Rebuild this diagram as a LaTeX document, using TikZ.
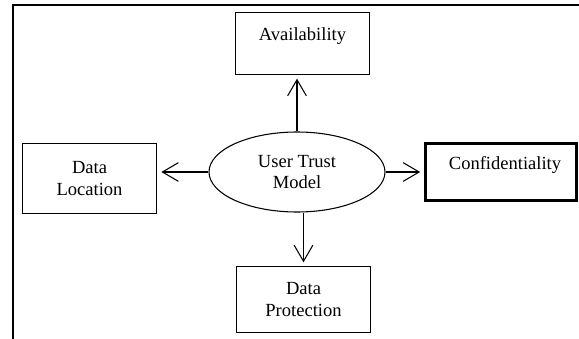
\documentclass[tikz,border=0pt]{standalone}
\usepackage{fontspec}
\setmainfont{Liberation Serif}
\usetikzlibrary{arrows.meta,shapes.geometric}

\tikzset{
  box/.style={draw, line width=0.8pt, minimum width=101pt, inner sep=0pt},
  label text/.style={inner sep=0.75pt, align=center, font=\fontsize{13.9}{16}\selectfont},
  trust/.style={draw, ellipse, line width=0.8pt, minimum width=132pt, minimum height=60pt, inner sep=0pt, align=center, font=\fontsize{13.9}{15.5}\selectfont},
  arr/.style={line width=0.8pt, -{Straight Barb[length=12pt,width=14pt,line width=0.8pt]}, shorten >=3pt}
}

\begin{document}
\begin{tikzpicture}[x=0.75pt,y=0.75pt,yscale=-1,xscale=1]
  \useasboundingbox (0,0) rectangle (579,339);

  %Frame
  \draw [line width=1.1pt] (13,339) |- (579,5);

  %Shape: Ellipse
  \node [trust] (utm) at (297,172) {User Trust\\Model};

  %Shape: Rectangles
  \node [box, minimum height=46pt] (avail) at (302.5,43.5) {};
  \node [box, minimum height=52pt, label text] (loc) at (89.5,178.5) {Data\\Location};
  \node [box, minimum height=49pt, label text] (prot) at (303.5,299.5) {Data\\Protection};
  \node [draw, line width=2.2pt, minimum width=113pt, minimum height=43pt, inner sep=0pt] (conf) at (501,172) {};

  % Text Node
  \node [label text] (availtxt) at (302.5,36) {Availability};
  % Text Node
  \node [label text] (conftxt) at (505,165) {Confidentiality};

  %Straight Lines
  \draw [arr] (utm.north) -- (utm.north |- avail.south);
  \draw [arr] (utm.south -| prot.north) -- (prot.north);
  \draw [arr] (utm.west) -- (utm.west -| loc.east);
  \draw [arr] (utm.east) -- (utm.east -| conf.west);
\end{tikzpicture}
\end{document}
